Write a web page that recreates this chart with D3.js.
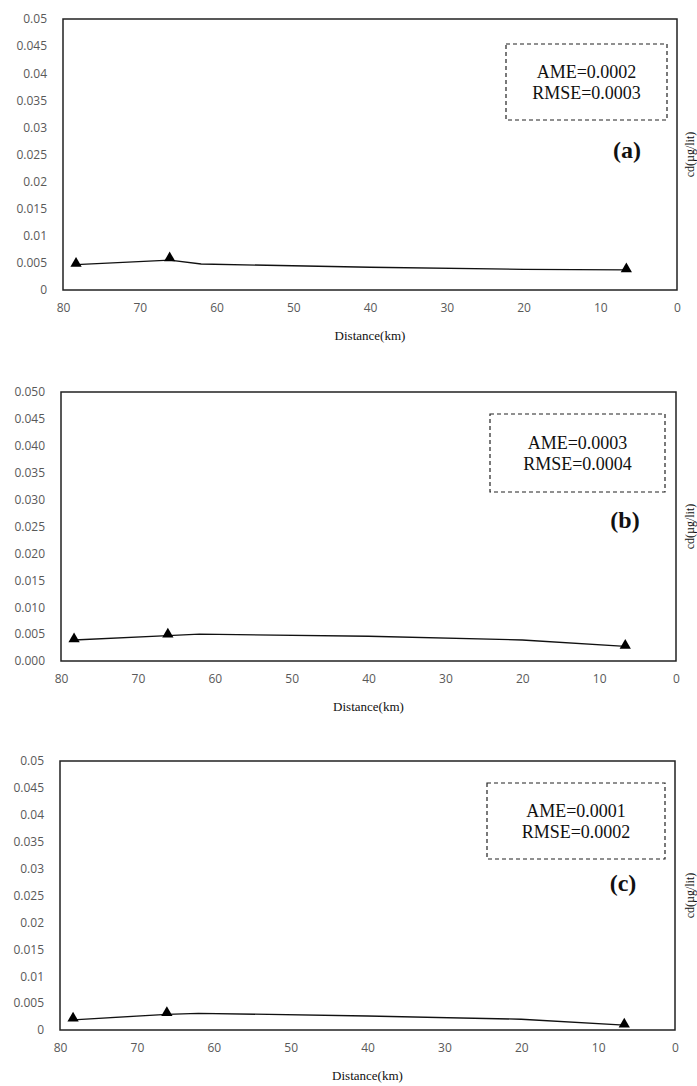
<!DOCTYPE html>
<html>
<head>
<meta charset="utf-8">
<script src="https://cdn.jsdelivr.net/npm/d3@7"></script>
<style>
  body { margin: 0; background: #fff; }
  svg { display: block; }
  .tick text { fill: #595959; font-family: "Open Sans", "Liberation Sans", sans-serif; font-size: 12px; }
  .serif { font-family: "Liberation Serif", "DejaVu Serif", serif; fill: #111; }
</style>
</head>
<body>
<div id="chart"></div>
<script>
// distances (km) for the model curve and the observed stations
var modelDist = [78.3, 66.1, 62, 40, 20, 6.6];
var obsDist = [78.3, 66.1, 6.6];

var modelA = [0.0047, 0.0055, 0.0048, 0.0042, 0.0038, 0.0037];
var obsA = [0.0047, 0.0057, 0.0037];
var modelB = [0.0039, 0.0047, 0.0050, 0.0046, 0.0039, 0.0027];
var obsB = [0.0039, 0.0048, 0.0027];
var modelC = [0.0019, 0.0029, 0.0031, 0.0026, 0.0020, 0.0009];
var obsC = [0.0020, 0.0030, 0.0009];

var xTicks = [80, 70, 60, 50, 40, 30, 20, 10, 0];
var yTicks = [0, 0.005, 0.01, 0.015, 0.02, 0.025, 0.03, 0.035, 0.04, 0.045, 0.05];

var panels = [
  {model: modelA, obs: obsA, label: "(a)", ame: "AME=0.0002", rmse: "RMSE=0.0003", fmt: d3.format("~g"),
   left: 63, right: 677, top: 19, bottom: 290, box: [506, 44, 667, 120], tag: [627, 150]},
  {model: modelB, obs: obsB, label: "(b)", ame: "AME=0.0003", rmse: "RMSE=0.0004", fmt: d3.format(".3f"),
   left: 61, right: 676, top: 392, bottom: 661, box: [490, 414, 665, 492], tag: [625, 520]},
  {model: modelC, obs: obsC, label: "(c)", ame: "AME=0.0001", rmse: "RMSE=0.0002", fmt: d3.format("~g"),
   left: 60, right: 675, top: 761, bottom: 1030, box: [487, 783, 665, 859], tag: [623, 883]}
];

var svg = d3.select("#chart").append("svg")
  .attr("width", 697)
  .attr("height", 1086);

panels.forEach(function(p) {
  var x = d3.scaleLinear().domain([80, 0]).range([p.left, p.right]);
  var y = d3.scaleLinear().domain([0, 0.05]).range([p.bottom, p.top]);

  var g = svg.append("g");

  // axes (labels only, no tick marks)
  g.append("g")
    .attr("transform", `translate(0, ${p.bottom})`)
    .call(d3.axisBottom(x).tickValues(xTicks).tickSize(0).tickPadding(13).tickFormat(d3.format("d")))
    .call(s => s.select(".domain").remove());

  g.append("g")
    .attr("transform", `translate(${p.left}, 0)`)
    .call(d3.axisLeft(y).tickValues(yTicks).tickSize(0).tickPadding(16).tickFormat(p.fmt))
    .call(s => s.select(".domain").remove());

  // plot border
  g.append("rect")
    .attr("x", p.left).attr("y", p.top)
    .attr("width", p.right - p.left).attr("height", p.bottom - p.top)
    .attr("fill", "none").attr("stroke", "#222").attr("stroke-width", 1.5);

  // model line
  var line = d3.line()
    .x((d, i) => x(modelDist[i]))
    .y(d => y(d));
  g.append("path")
    .datum(p.model)
    .attr("d", line)
    .attr("fill", "none")
    .attr("stroke", "#111")
    .attr("stroke-width", 1.3);

  // observed points
  g.selectAll(".obs")
    .data(p.obs)
    .enter()
    .append("path")
    .attr("class", "obs")
    .attr("transform", (d, i) => `translate(${x(obsDist[i])}, ${y(d) - 1})`)
    .attr("d", d3.symbol().type(d3.symbolTriangle).size(55))
    .attr("fill", "#000");

  // error box
  var b = p.box;
  g.append("rect")
    .attr("x", b[0]).attr("y", b[1])
    .attr("width", b[2] - b[0]).attr("height", b[3] - b[1])
    .attr("fill", "#fff").attr("stroke", "#222")
    .attr("stroke-width", 1.2).attr("stroke-dasharray", "4,3");

  var cx = (b[0] + b[2]) / 2;
  var cy = (b[1] + b[3]) / 2;
  g.append("text").attr("class", "serif")
    .attr("x", cx).attr("y", cy - 4)
    .attr("text-anchor", "middle").style("font-size", "18px")
    .text(p.ame);
  g.append("text").attr("class", "serif")
    .attr("x", cx).attr("y", cy + 17)
    .attr("text-anchor", "middle").style("font-size", "18px")
    .text(p.rmse);

  // panel tag
  g.append("text").attr("class", "serif")
    .attr("x", p.tag[0]).attr("y", p.tag[1] + 8)
    .attr("text-anchor", "middle")
    .style("font-size", "24px").style("font-weight", "bold")
    .text(p.label);

  // y label on the right
  g.append("text").attr("class", "serif")
    .attr("transform", `translate(690, ${p.top + (p.bottom - p.top) / 2}) rotate(-90)`)
    .attr("text-anchor", "middle").attr("dy", "0.35em")
    .style("font-size", "12px")
    .text("cd(µg/lit)");

  // x label
  g.append("text").attr("class", "serif")
    .attr("x", (p.left + p.right) / 2).attr("y", p.bottom + 50)
    .attr("text-anchor", "middle")
    .style("font-size", "13px")
    .text("Distance(km)");
});
</script>
</body>
</html>
